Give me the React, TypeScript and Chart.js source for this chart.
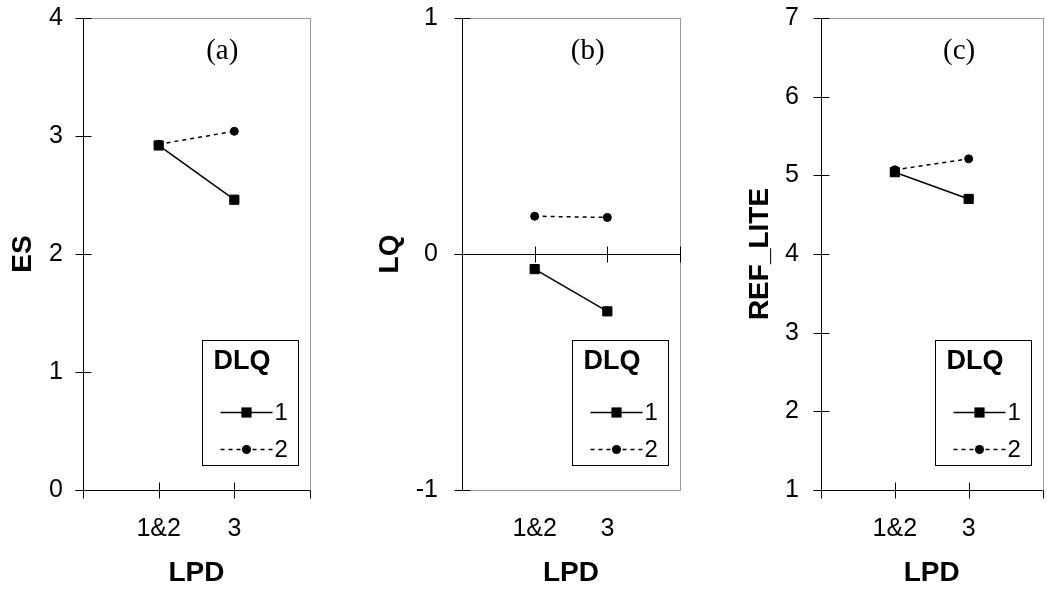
import React, { useEffect, useRef } from 'react';
import { Chart, registerables } from 'chart.js';

Chart.register(...registerables);

// ---- data ----
const categories = ['1&2', '3'];
const seriesNames = ['1', '2'];
const legendTitle = 'DLQ';
const xTitle = 'LPD';

const esDlq1 = [2.92, 2.46];
const esDlq2 = [2.93, 3.04];
const lqDlq1 = [-0.064, -0.243];
const lqDlq2 = [0.16, 0.155];
const refDlq1 = [5.04, 4.7];
const refDlq2 = [5.07, 5.21];

const SANS = '"Liberation Sans", Arial, sans-serif';
const SERIF = '"Liberation Serif", "Times New Roman", serif';

type PanelCfg = {
  label: string;
  yTitle: string;
  yMin: number;
  yMax: number;
  xAxisAt: number;
  s1: number[];
  s2: number[];
  left: number;
  width: number;
  yWidth: number;
  padRight: number;
  tickPad: number;
  yTitlePad: number;
  labelX: number;
};

const panels: PanelCfg[] = [
  { label: '(a)', yTitle: 'ES', yMin: 0, yMax: 4, xAxisAt: 0, s1: esDlq1, s2: esDlq2,
    left: 0, width: 340, yWidth: 83, padRight: 30, tickPad: 20, yTitlePad: 6, labelX: 1.84 },
  { label: '(b)', yTitle: 'LQ', yMin: -1, yMax: 1, xAxisAt: 0, s1: lqDlq1, s2: lqDlq2,
    left: 340, width: 350, yWidth: 122, padRight: 10, tickPad: 24, yTitlePad: 33, labelX: 1.73 },
  { label: '(c)', yTitle: 'REF_LITE', yMin: 1, yMax: 7, xAxisAt: 1, s1: refDlq1, s2: refDlq2,
    left: 690, width: 360, yWidth: 131, padRight: 1, tickPad: 22, yTitlePad: 53, labelX: 1.87 },
];

const framePlugin = {
  id: 'frame',
  beforeDatasetsDraw(chart: any, _args: any, opts: any) {
    const { ctx, chartArea: a, scales } = chart;
    const x = scales.x;
    const y = scales.y;
    const line = (x1: number, y1: number, x2: number, y2: number) => {
      ctx.beginPath();
      ctx.moveTo(x1, y1);
      ctx.lineTo(x2, y2);
      ctx.stroke();
    };
    ctx.save();
    ctx.lineWidth = 1;
    ctx.strokeStyle = '#9a9a9a';
    ctx.strokeRect(Math.round(a.left) + 0.5, Math.round(a.top) + 0.5,
      Math.round(a.right - a.left), Math.round(a.bottom - a.top));
    ctx.strokeStyle = '#000';
    const lx = Math.round(a.left) + 0.5;
    line(lx, a.top, lx, a.bottom + 0.5);
    y.ticks.forEach((t: any) => {
      const py = Math.round(y.getPixelForValue(t.value)) + 0.5;
      line(lx - 8, py, lx + 8, py);
    });
    const ay = Math.round(y.getPixelForValue(opts.xAxisAt)) + 0.5;
    line(lx - 8, ay, a.right, ay);
    const atBottom = opts.xAxisAt === y.min;
    x.ticks.forEach((t: any) => {
      const px = Math.round(x.getPixelForValue(t.value)) + 0.5;
      let up = 8;
      if (t.value === x.min) up = 0;
      if (t.value === x.max && atBottom) up = 0;
      line(px, ay - up, px, ay + 8);
    });
    ctx.restore();
  },
  afterDraw(chart: any, _args: any, opts: any) {
    const { ctx, chartArea: a, scales } = chart;
    ctx.save();
    // panel label
    ctx.fillStyle = '#000';
    ctx.font = `29px ${SERIF}`;
    ctx.textAlign = 'center';
    ctx.textBaseline = 'middle';
    ctx.fillText(opts.label, scales.x.getPixelForValue(opts.labelX), a.top + 33);

    // legend
    const bw = 96, bh = 125;
    const bx = Math.round(a.right - 12 - bw) + 0.5;
    const by = Math.round(a.bottom - 25 - bh) + 0.5;
    ctx.fillStyle = '#fff';
    ctx.fillRect(bx, by, bw, bh);
    ctx.strokeStyle = '#000';
    ctx.lineWidth = 1;
    ctx.strokeRect(bx, by, bw, bh);
    ctx.fillStyle = '#000';
    ctx.textAlign = 'left';
    ctx.textBaseline = 'alphabetic';
    ctx.font = `bold 27px ${SANS}`;
    ctx.fillText(legendTitle, bx + 11, by + 28);
    chart.data.datasets.forEach((ds: any, i: number) => {
      const ry = Math.round(by + 71 + 37 * i) + 0.5;
      ctx.save();
      ctx.strokeStyle = ds.borderColor;
      ctx.lineWidth = ds.borderWidth;
      ctx.setLineDash(ds.borderDash || []);
      ctx.beginPath();
      ctx.moveTo(bx + 18, ry);
      ctx.lineTo(bx + 70, ry);
      ctx.stroke();
      ctx.restore();
      const mx = bx + 44;
      ctx.fillStyle = '#000';
      if (ds.pointStyle === 'rect') {
        const s = ds.pointRadius * Math.SQRT1_2 + 0.5;
        ctx.fillRect(mx - s, ry - s, 2 * s, 2 * s);
      } else {
        ctx.beginPath();
        ctx.arc(mx, ry, ds.pointRadius + 0.5, 0, Math.PI * 2);
        ctx.fill();
      }
      ctx.font = `24px ${SANS}`;
      ctx.textBaseline = 'middle';
      ctx.fillText(ds.label, bx + 72, ry + 1);
    });
    ctx.restore();
  },
};

function Panel({ cfg }: { cfg: PanelCfg }) {
  const ref = useRef<HTMLCanvasElement>(null);
  useEffect(() => {
    const toPts = (arr: number[]) => arr.map((v, i) => ({ x: i + 1, y: v }));
    const chart = new Chart(ref.current as HTMLCanvasElement, {
      type: 'line',
      data: {
        datasets: [
          {
            label: seriesNames[0],
            data: toPts(cfg.s1),
            borderColor: '#000',
            backgroundColor: '#000',
            borderWidth: 1.5,
            pointStyle: 'rect',
            pointRadius: 6.5,
            pointHoverRadius: 6.5,
            pointBorderWidth: 1,
            pointBackgroundColor: '#000',
            pointBorderColor: '#000',
          },
          {
            label: seriesNames[1],
            data: toPts(cfg.s2),
            borderColor: '#000',
            backgroundColor: '#000',
            borderWidth: 1.5,
            borderDash: [4, 4],
            pointStyle: 'circle',
            pointRadius: 4,
            pointHoverRadius: 4,
            pointBorderWidth: 1,
            pointBackgroundColor: '#000',
            pointBorderColor: '#000',
          },
        ],
      } as any,
      options: {
        responsive: false,
        maintainAspectRatio: false,
        animation: false,
        events: [],
        layout: { padding: { left: 0, top: 18, right: cfg.padRight, bottom: 0 } },
        scales: {
          x: {
            type: 'linear',
            min: 0,
            max: 3,
            afterFit: (s: any) => { s.height = 101; },
            grid: { display: false, drawTicks: true, tickLength: 24 },
            border: { display: false },
            ticks: {
              stepSize: 1,
              autoSkip: false,
              maxRotation: 0,
              padding: 0,
              color: '#000',
              font: { family: SANS, size: 25 },
              callback: (v: any) => (Number.isInteger(v) && categories[v - 1]) || '',
            },
            title: {
              display: true,
              text: xTitle,
              color: '#000',
              font: { family: SANS, size: 28, weight: 'bold' },
              padding: { top: 0, bottom: 1 },
            },
          },
          y: {
            type: 'linear',
            min: cfg.yMin,
            max: cfg.yMax,
            afterFit: (s: any) => { s.width = cfg.yWidth; },
            grid: { display: false, drawTicks: true, tickLength: cfg.tickPad },
            border: { display: false },
            ticks: {
              stepSize: 1,
              padding: 0,
              color: '#000',
              font: { family: SANS, size: 25 },
            },
            title: {
              display: true,
              text: cfg.yTitle,
              color: '#000',
              font: { family: SANS, size: 28, weight: 'bold' },
              padding: { top: cfg.yTitlePad, bottom: 0 },
            },
          },
        },
        plugins: {
          legend: { display: false },
          tooltip: { enabled: false },
          frame: { xAxisAt: cfg.xAxisAt, label: cfg.label, labelX: cfg.labelX },
        } as any,
      } as any,
      plugins: [framePlugin as any],
    });
    return () => chart.destroy();
  }, [cfg]);
  return (
    <canvas
      ref={ref}
      width={cfg.width}
      height={591}
      style={{ position: 'absolute', left: cfg.left, top: 0, width: cfg.width, height: 591 }}
    />
  );
}

export default function App() {
  return (
    <div
      style={{
        position: 'absolute',
        left: 0,
        top: 0,
        width: 1047,
        height: 591,
        overflow: 'hidden',
        background: '#fff',
      }}
    >
      {panels.map((p) => (
        <Panel key={p.label} cfg={p} />
      ))}
    </div>
  );
}
